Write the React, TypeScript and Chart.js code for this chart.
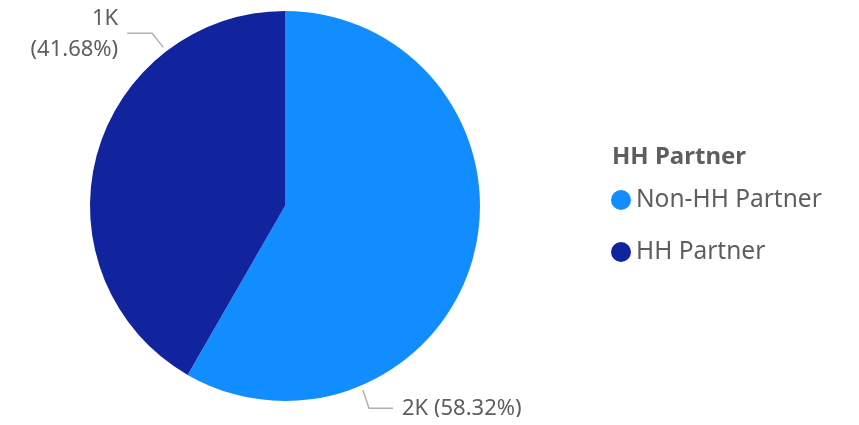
import React, { useEffect, useRef } from "react";
import { Chart, registerables } from "chart.js";

Chart.register(...registerables);

const categories = ["Non-HH Partner", "HH Partner"];
const values = [1808, 1292];
const valueLabels = ["2K", "1K"];
const colors = ["#118DFF", "#12239E"];
const legendTitle = "HH Partner";

const FONT = "'Noto Sans', 'Open Sans', sans-serif";
const TEXT = "#605E5C";

const labelPlugin = {
  id: "pbiLabels",
  afterDatasetsDraw(chart: any) {
    const ctx = chart.ctx;
    const meta = chart.getDatasetMeta(0);
    const data = chart.data.datasets[0].data as number[];
    const total = data.reduce((a, b) => a + b, 0);
    // fraction within each slice where the leader line starts
    const fracs = [0.748, 0.75];
    ctx.save();
    ctx.strokeStyle = "#B3B0AD";
    ctx.lineWidth = 1.5;
    ctx.fillStyle = TEXT;
    ctx.font = `22px ${FONT}`;
    ctx.textBaseline = "middle";
    meta.data.forEach((arc: any, i: number) => {
      const { x, y, startAngle, endAngle, outerRadius } = arc.getProps(
        ["x", "y", "startAngle", "endAngle", "outerRadius"],
        true
      );
      const a = startAngle + (endAngle - startAngle) * fracs[i];
      const r = outerRadius + 5;
      const sx = x + Math.cos(a) * r;
      const sy = y + Math.sin(a) * r;
      const pct = ((data[i] / total) * 100).toFixed(2) + "%";
      ctx.beginPath();
      if (i === 0) {
        ctx.moveTo(sx, sy);
        ctx.lineTo(sx + 6, sy + 18);
        ctx.lineTo(sx + 30, sy + 18);
        ctx.stroke();
        ctx.textAlign = "left";
        ctx.fillText(`${valueLabels[i]} (${pct})`, sx + 39, sy + 19);
      } else {
        ctx.moveTo(sx, sy);
        ctx.lineTo(sx - 11, sy - 14);
        ctx.lineTo(sx - 36, sy - 14);
        ctx.stroke();
        ctx.textAlign = "right";
        ctx.fillText(valueLabels[i], sx - 45, sy - 29);
        ctx.fillText(`(${pct})`, sx - 45, sy + 2);
      }
    });
    ctx.restore();
  },
};

const legendPlugin = {
  id: "pbiLegend",
  afterDraw(chart: any) {
    const ctx = chart.ctx;
    const x0 = 602;
    ctx.save();
    ctx.textBaseline = "middle";
    ctx.textAlign = "left";
    ctx.fillStyle = TEXT;
    ctx.font = `bold 24px ${FONT}`;
    ctx.fillText(legendTitle, x0 + 2, 149);
    ctx.font = `24.5px ${FONT}`;
    (chart.data.labels as string[]).forEach((lab, i) => {
      const cy = 192 + i * 52;
      ctx.fillStyle = (chart.data.datasets[0].backgroundColor as string[])[i];
      ctx.beginPath();
      ctx.arc(x0 + 11, cy, 10, 0, Math.PI * 2);
      ctx.fill();
      ctx.fillStyle = TEXT;
      ctx.fillText(lab, x0 + 26, cy);
    });
    ctx.restore();
  },
};

export default function App() {
  const ref = useRef<HTMLCanvasElement>(null);
  useEffect(() => {
    const chart = new Chart(ref.current!, {
      type: "pie",
      data: {
        labels: categories,
        datasets: [
          {
            data: values,
            backgroundColor: colors,
            borderWidth: 0,
          },
        ],
      },
      options: {
        animation: false,
        responsive: false,
        maintainAspectRatio: false,
        layout: { padding: { left: 82, right: 371, top: 3, bottom: 16 } },
        plugins: {
          legend: { display: false },
          tooltip: { enabled: false },
        },
      },
      plugins: [labelPlugin, legendPlugin],
    });
    return () => chart.destroy();
  }, []);
  return (
    <div style={{ width: 843, height: 409 }}>
      <canvas ref={ref} width={843} height={409} style={{ display: "block" }} />
    </div>
  );
}
